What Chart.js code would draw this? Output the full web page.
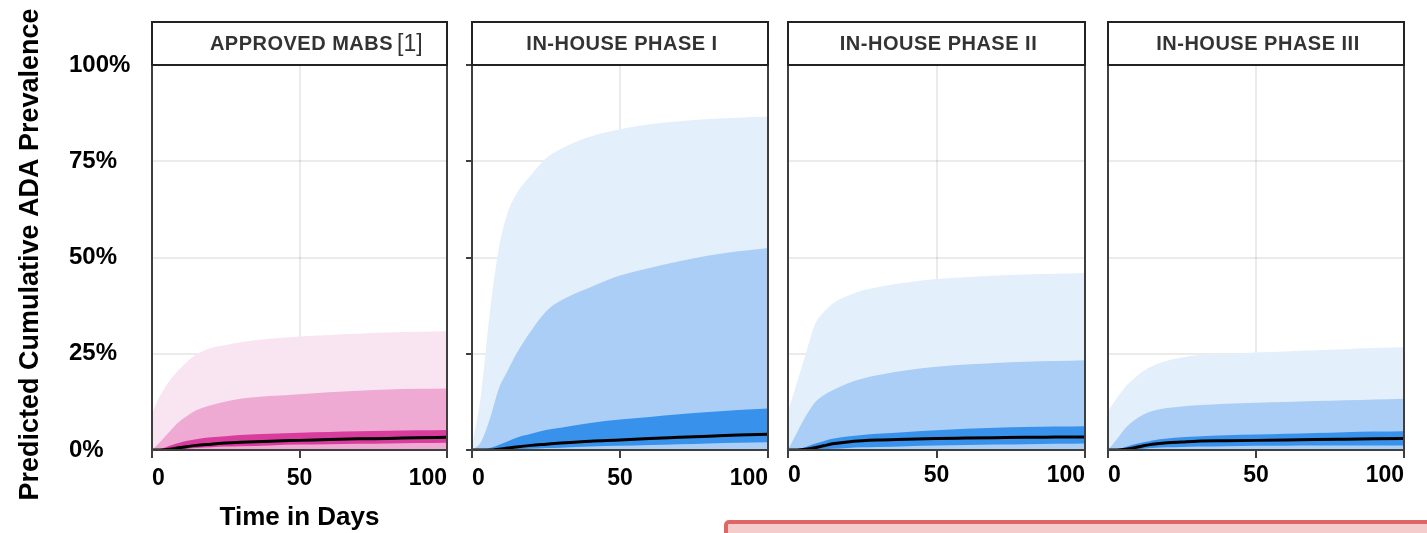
<!DOCTYPE html>
<html>
<head>
<meta charset="utf-8">
<script src="https://cdn.jsdelivr.net/npm/chart.js@4.4.0/dist/chart.umd.min.js"></script>
<style>
  html, body { margin: 0; padding: 0; background: #fff; }
  body { width: 1427px; height: 533px; position: relative; overflow: hidden; }
  .panel { position: absolute; top: 0; height: 533px; }
  #note { position: absolute; left: 724px; top: 520px; width: 720px; height: 40px;
          border: 4px solid #e06666; background: #f4cccc; border-radius: 5px; }
</style>
</head>
<body>
<div class="panel" id="p0"><canvas id="c0"></canvas></div>
<div class="panel" id="p1"><canvas id="c1"></canvas></div>
<div class="panel" id="p2"><canvas id="c2"></canvas></div>
<div class="panel" id="p3"><canvas id="c3"></canvas></div>
<div id="note"></div>
<script>
// Time in days (shared x values for every band)
const days = [0, 3, 6, 9, 12, 15, 20, 25, 30, 40, 50, 60, 70, 80, 90, 100];
const yTicks = [0, 25, 50, 75, 100];
const xTicks = [0, 50, 100];
const panelTitles = ['APPROVED MABS', 'IN-HOUSE PHASE I', 'IN-HOUSE PHASE II', 'IN-HOUSE PHASE III'];
const titleRef = '[1]';
const yTitle = 'Predicted Cumulative ADA Prevalence';
const xTitle = 'Time in Days';

// Approved mAbs
const approvedOuter  = [9.6, 14.5, 18, 20.8, 23, 24.8, 26.5, 27.3, 28, 28.9, 29.5, 29.9, 30.2, 30.5, 30.7, 30.9];
const approvedMid    = [0, 2.3, 4.8, 7.2, 8.9, 10.3, 11.6, 12.6, 13.3, 14, 14.5, 15, 15.4, 15.7, 15.9, 16];
const approvedInnerU = [0, 0.3, 1.1, 1.8, 2.4, 2.8, 3.3, 3.6, 3.9, 4.2, 4.5, 4.7, 4.9, 5.0, 5.1, 5.2];
const approvedInnerL = [0, 0, 0, 0.1, 0.3, 0.5, 0.7, 0.9, 1.0, 1.2, 1.4, 1.5, 1.6, 1.7, 1.8, 1.9];
const approvedMedian = [0, 0, 0.2, 0.6, 0.9, 1.2, 1.5, 1.8, 2.0, 2.3, 2.5, 2.7, 2.9, 3.0, 3.2, 3.3];

// In-house phase I
const phase1Outer  = [1, 14, 35.5, 52, 61.5, 66.5, 71.5, 75.8, 78.2, 81.4, 83.3, 84.6, 85.4, 86, 86.3, 86.6];
const phase1Mid    = [0, 2, 8, 15.8, 20.5, 25, 31, 36, 38.8, 42.3, 45.3, 47.3, 49, 50.5, 51.6, 52.5];
const phase1InnerU = [0, 0, 0.5, 1.3, 2.2, 3.2, 4.2, 5.2, 5.8, 7, 7.9, 8.6, 9.3, 9.9, 10.4, 10.8];
const phase1InnerL = [0, 0, 0, 0, 0.1, 0.2, 0.3, 0.5, 0.6, 0.9, 1.1, 1.3, 1.5, 1.7, 1.9, 2.0];
const phase1Median = [0, 0, 0, 0.2, 0.5, 0.8, 1.2, 1.5, 1.8, 2.3, 2.6, 3.0, 3.3, 3.6, 3.9, 4.1];

// In-house phase II
const phase2Outer  = [10, 17.5, 25, 32.5, 35.8, 38, 40, 41.4, 42.3, 43.5, 44.4, 44.9, 45.3, 45.6, 45.8, 46];
const phase2Mid    = [0, 4.5, 8.8, 12.3, 14.2, 15.5, 17.3, 18.5, 19.4, 20.7, 21.6, 22.2, 22.6, 22.9, 23.1, 23.3];
const phase2InnerU = [0, 0.2, 0.8, 1.6, 2.3, 2.9, 3.5, 3.9, 4.2, 4.7, 5.1, 5.5, 5.8, 6.0, 6.1, 6.2];
const phase2InnerL = [0, 0, 0, 0.1, 0.2, 0.3, 0.5, 0.7, 0.8, 1.0, 1.2, 1.3, 1.4, 1.5, 1.6, 1.7];
const phase2Median = [0, 0, 0.2, 0.6, 1.1, 1.6, 2.1, 2.4, 2.6, 2.8, 3.0, 3.1, 3.2, 3.3, 3.35, 3.4];

// In-house phase III
const phase3Outer  = [10, 13.5, 16.5, 18.7, 20.5, 21.8, 23.2, 24, 24.6, 25, 25.3, 25.6, 25.9, 26.2, 26.5, 26.7];
const phase3Mid    = [0, 2.8, 5.8, 7.8, 9.2, 10.1, 10.9, 11.3, 11.6, 12, 12.3, 12.5, 12.7, 12.9, 13.1, 13.3];
const phase3InnerU = [0, 0.2, 0.8, 1.5, 2.0, 2.5, 3.0, 3.3, 3.5, 3.8, 4.0, 4.2, 4.4, 4.6, 4.8, 4.9];
const phase3InnerL = [0, 0, 0, 0.1, 0.3, 0.5, 0.7, 0.8, 0.9, 1.0, 1.1, 1.1, 1.15, 1.2, 1.2, 1.2];
const phase3Median = [0, 0, 0.2, 0.6, 1.1, 1.5, 1.9, 2.1, 2.3, 2.4, 2.5, 2.6, 2.7, 2.8, 2.9, 3.0];

// Panel placement (pixels)
const plotLeft = [152, 472, 788, 1108];
const plotRight = [447, 768, 1085, 1404];
const plotTop = 65;
const plotBottom = 450;
const stripTop = 22;
const pageHeight = 533;

const pink = ['#f9e4f1', '#eeaad3', '#d83d9e'];
const blue = ['#e4effc', '#aacef6', '#3892eb'];
const fontFamily = "'Liberation Sans', Arial, Helvetica, sans-serif";

Chart.defaults.font.family = fontFamily;

function toPoints(values) {
    return days.map((d, i) => ({x: d, y: values[i]}));
}

// Frame around plot area, header strip and optional rotated y title
const panelDecor = {
    id: 'panelDecor',
    afterDraw(chart, args, opts) {
        const ctx = chart.ctx;
        const a = chart.chartArea;
        ctx.save();
        ctx.lineWidth = 2;
        ctx.strokeStyle = '#3f3f3f';
        ctx.strokeRect(a.left, a.top, a.right - a.left, a.bottom - a.top);

        ctx.fillStyle = '#fff';
        ctx.fillRect(a.left, stripTop, a.right - a.left, a.top - stripTop);
        ctx.strokeStyle = '#222';
        ctx.strokeRect(a.left, stripTop, a.right - a.left, a.top - stripTop);

        const cx = (a.left + a.right) / 2 + 2;
        const cy = (stripTop + a.top) / 2 + 1;
        ctx.fillStyle = '#333';
        ctx.textBaseline = 'middle';
        ctx.textAlign = 'center';
        ctx.font = 'bold 20px ' + fontFamily;
        ctx.letterSpacing = '0.5px';
        ctx.fillText(opts.text, cx, cy);
        if (opts.ref) {
            const w = ctx.measureText(opts.text).width;
            ctx.letterSpacing = '0px';
            ctx.font = '23px ' + fontFamily;
            ctx.textAlign = 'left';
            ctx.fillText(opts.ref, cx + w / 2 + 4, cy);
        }

        if (opts.yTitle) {
            ctx.letterSpacing = '0px';
            ctx.translate(31, (a.top + a.bottom) / 2 - 3);
            ctx.rotate(-Math.PI / 2);
            ctx.font = 'bold 27px ' + fontFamily;
            ctx.fillStyle = '#000';
            ctx.textAlign = 'center';
            ctx.fillText(opts.yTitle, 0, 0);
        }
        ctx.restore();
    }
};

function createPanel(i, bands, colors) {
    const first = i === 0;
    const yWidth = first ? plotLeft[0] - 69 : (i === 1 ? 6 : 1);
    const left = first ? 0 : plotLeft[i] - 30;
    const box = document.getElementById('p' + i);
    box.style.left = left + 'px';
    box.style.width = (plotRight[i] + 30 - left) + 'px';

    const data = {
        datasets: [{
            label: 'median', data: toPoints(bands.median),
            borderColor: '#000', borderWidth: 3, fill: false
        }, {
            label: 'inner', data: toPoints(bands.innerU),
            borderWidth: 0, backgroundColor: colors[2], fill: 2
        }, {
            label: 'innerLow', data: toPoints(bands.innerL),
            borderWidth: 0, fill: false
        }, {
            label: 'mid', data: toPoints(bands.mid),
            borderWidth: 0, backgroundColor: colors[1], fill: 'origin'
        }, {
            label: 'outer', data: toPoints(bands.outer),
            borderWidth: 0, backgroundColor: colors[0], fill: 'origin'
        }]
    };

    const config = {
        type: 'line',
        data: data,
        options: {
            responsive: true,
            maintainAspectRatio: false,
            animation: false,
            events: [],
            layout: {
                padding: {left: first ? 69 : 30 - yWidth, right: 30, top: plotTop, bottom: 0}
            },
            elements: {
                point: {radius: 0},
                line: {cubicInterpolationMode: 'monotone', borderColor: 'rgba(0,0,0,0)'}
            },
            plugins: {
                legend: {display: false},
                tooltip: {enabled: false},
                panelDecor: {
                    text: panelTitles[i],
                    ref: first ? titleRef : null,
                    yTitle: first ? yTitle : null
                }
            },
            scales: {
                x: {
                    type: 'linear', min: 0, max: 100, z: 1,
                    afterBuildTicks: (s) => { s.ticks = xTicks.map(v => ({value: v})); },
                    afterFit: (s) => { s.height = pageHeight - plotBottom; },
                    border: {display: false},
                    grid: {color: 'rgba(0,0,0,0.08)', lineWidth: 2, tickLength: 8,
                           tickColor: '#3f3f3f', tickWidth: 2},
                    ticks: {color: '#000', padding: i < 2 ? 7 : 4, maxRotation: 0, align: 'inner',
                            font: {size: 23, weight: 'bold'}},
                    title: {display: first, text: xTitle, color: '#000',
                            font: {size: 26, weight: 'bold'}, padding: {top: 0, bottom: 0}}
                },
                y: {
                    min: 0, max: 100, z: 1,
                    afterBuildTicks: (s) => { s.ticks = yTicks.map(v => ({value: v})); },
                    afterFit: (s) => { s.width = yWidth; },
                    border: {display: false},
                    grid: {color: 'rgba(0,0,0,0.08)', lineWidth: 2, drawTicks: i === 1,
                           tickLength: 6, tickColor: '#3f3f3f', tickWidth: 2},
                    ticks: {display: first, color: '#000', crossAlign: 'far', padding: 0,
                            font: {size: 24, weight: 'bold'},
                            callback: (v) => v + '%'}
                }
            }
        },
        plugins: [panelDecor]
    };

    return new Chart(document.getElementById('c' + i), config);
}

createPanel(0, {outer: approvedOuter, mid: approvedMid, innerU: approvedInnerU, innerL: approvedInnerL, median: approvedMedian}, pink);
createPanel(1, {outer: phase1Outer, mid: phase1Mid, innerU: phase1InnerU, innerL: phase1InnerL, median: phase1Median}, blue);
createPanel(2, {outer: phase2Outer, mid: phase2Mid, innerU: phase2InnerU, innerL: phase2InnerL, median: phase2Median}, blue);
createPanel(3, {outer: phase3Outer, mid: phase3Mid, innerU: phase3InnerU, innerL: phase3InnerL, median: phase3Median}, blue);
</script>
</body>
</html>
